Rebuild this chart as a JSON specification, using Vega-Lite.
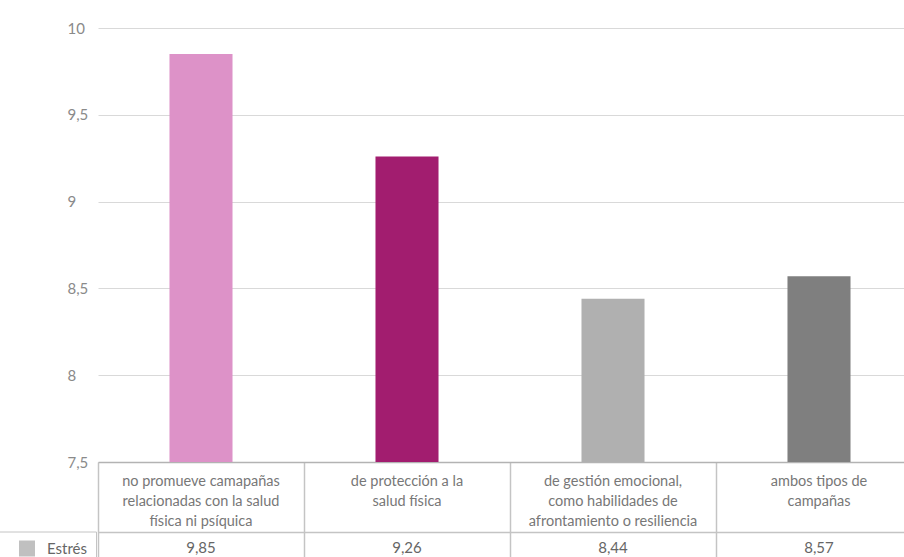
{
  "$schema": "https://vega.github.io/schema/vega-lite/v6.json",
  "autosize": {"type": "none"},
  "width": 806,
  "height": 434,
  "padding": {"left": 98, "top": 28, "right": 0, "bottom": 95},
  "config": {
    "locale": {"number": {"decimal": ",", "thousands": ".", "grouping": [3], "currency": ["", " €"]}},
    "view": {"stroke": null},
    "font": "Lato"
  },
  "data": {
    "values": [
      {"categoria": "no promueve camapañas\nrelacionadas con la salud\nfísica ni psíquica", "serie": "Estrés", "valor": 9.85},
      {"categoria": "de protección a la\nsalud física", "serie": "Estrés", "valor": 9.26},
      {"categoria": "de gestión emocional,\ncomo habilidades de\nafrontamiento o resiliencia", "serie": "Estrés", "valor": 8.44},
      {"categoria": "ambos tipos de\ncampañas", "serie": "Estrés", "valor": 8.57}
    ]
  },
  "layer": [
    {
      "mark": {"type": "bar", "clip": true},
      "encoding": {
        "x": {
          "field": "categoria", "type": "nominal", "sort": null,
          "scale": {"range": [0, 824], "paddingInner": 0.694, "paddingOuter": 0.347},
          "axis": {
            "orient": "bottom", "offset": 70, "title": null,
            "domain": true, "domainColor": "#c4c4c4", "domainWidth": 1.5,
            "ticks": false, "tickSize": 0,
            "labelAngle": 0, "labelExpr": "split(datum.label, '\\n')", "labelFontSize": 14.5,
            "labelColor": "#777777", "labelLineHeight": 20, "labelPadding": -57.5, "labelLimit": 260,
            "labelBaseline": "top", "labelOverlap": false
          }
        },
        "y": {
          "field": "valor", "type": "quantitative",
          "scale": {"domain": [7.5, 10], "zero": false, "nice": false},
          "axis": {
            "title": null, "values": [7.5, 8, 8.5, 9, 9.5, 10], "format": "~g",
            "domain": false, "ticks": false, "tickSize": 0, "grid": true, "gridColor": "#d9d9d9",
            "labelAlign": "left", "labelPadding": 31, "labelFontSize": 15, "labelColor": "#8a8a8a",
            "labelBaseline": "middle"
          }
        },
        "color": {
          "field": "categoria", "type": "nominal", "sort": null,
          "scale": {
            "domain": [
              "no promueve camapañas\nrelacionadas con la salud\nfísica ni psíquica",
              "de protección a la\nsalud física",
              "de gestión emocional,\ncomo habilidades de\nafrontamiento o resiliencia",
              "ambos tipos de\ncampañas"
            ],
            "range": ["#dd92c8", "#a21d6f", "#b0b0b0", "#7f7f7f"]
          },
          "legend": null
        }
      }
    },
    {
      "mark": {"type": "text", "dy": 86, "fontSize": 15, "baseline": "middle", "align": "center", "color": "#666666"},
      "encoding": {
        "x": {
          "field": "categoria", "type": "nominal", "sort": null,
          "scale": {"range": [0, 824], "paddingInner": 0, "paddingOuter": 0},
          "axis": {
            "orient": "bottom", "offset": 0, "title": null, "labels": false,
            "ticks": true, "tickBand": "extent", "tickSize": 95, "tickColor": "#c4c4c4", "tickWidth": 1.5,
            "domain": true, "domainColor": "#b3b3b3", "domainWidth": 1.5
          }
        },
        "y": {"datum": 7.5, "type": "quantitative"},
        "text": {"field": "valor", "type": "quantitative", "format": ".2f"}
      }
    },
    {
      "mark": {"type": "bar"},
      "encoding": {
        "y": {"datum": 7.5, "type": "quantitative"},
        "y2": {"datum": 7.5},
        "color": {
          "field": "serie", "type": "nominal",
          "scale": {"range": ["#c0c0c0"]},
          "legend": {
            "orient": "none", "legendX": -100, "legendY": 503.5, "title": null,
            "symbolType": "square", "symbolSize": 256, "symbolStrokeWidth": 0,
            "labelFontSize": 15, "labelColor": "#666666", "labelOffset": 12,
            "padding": 9, "symbolOffset": 12, "strokeColor": "#c4c4c4"
          }
        }
      }
    }
  ],
  "resolve": {"axis": {"x": "independent"}, "scale": {"x": "independent", "color": "independent"}}
}
